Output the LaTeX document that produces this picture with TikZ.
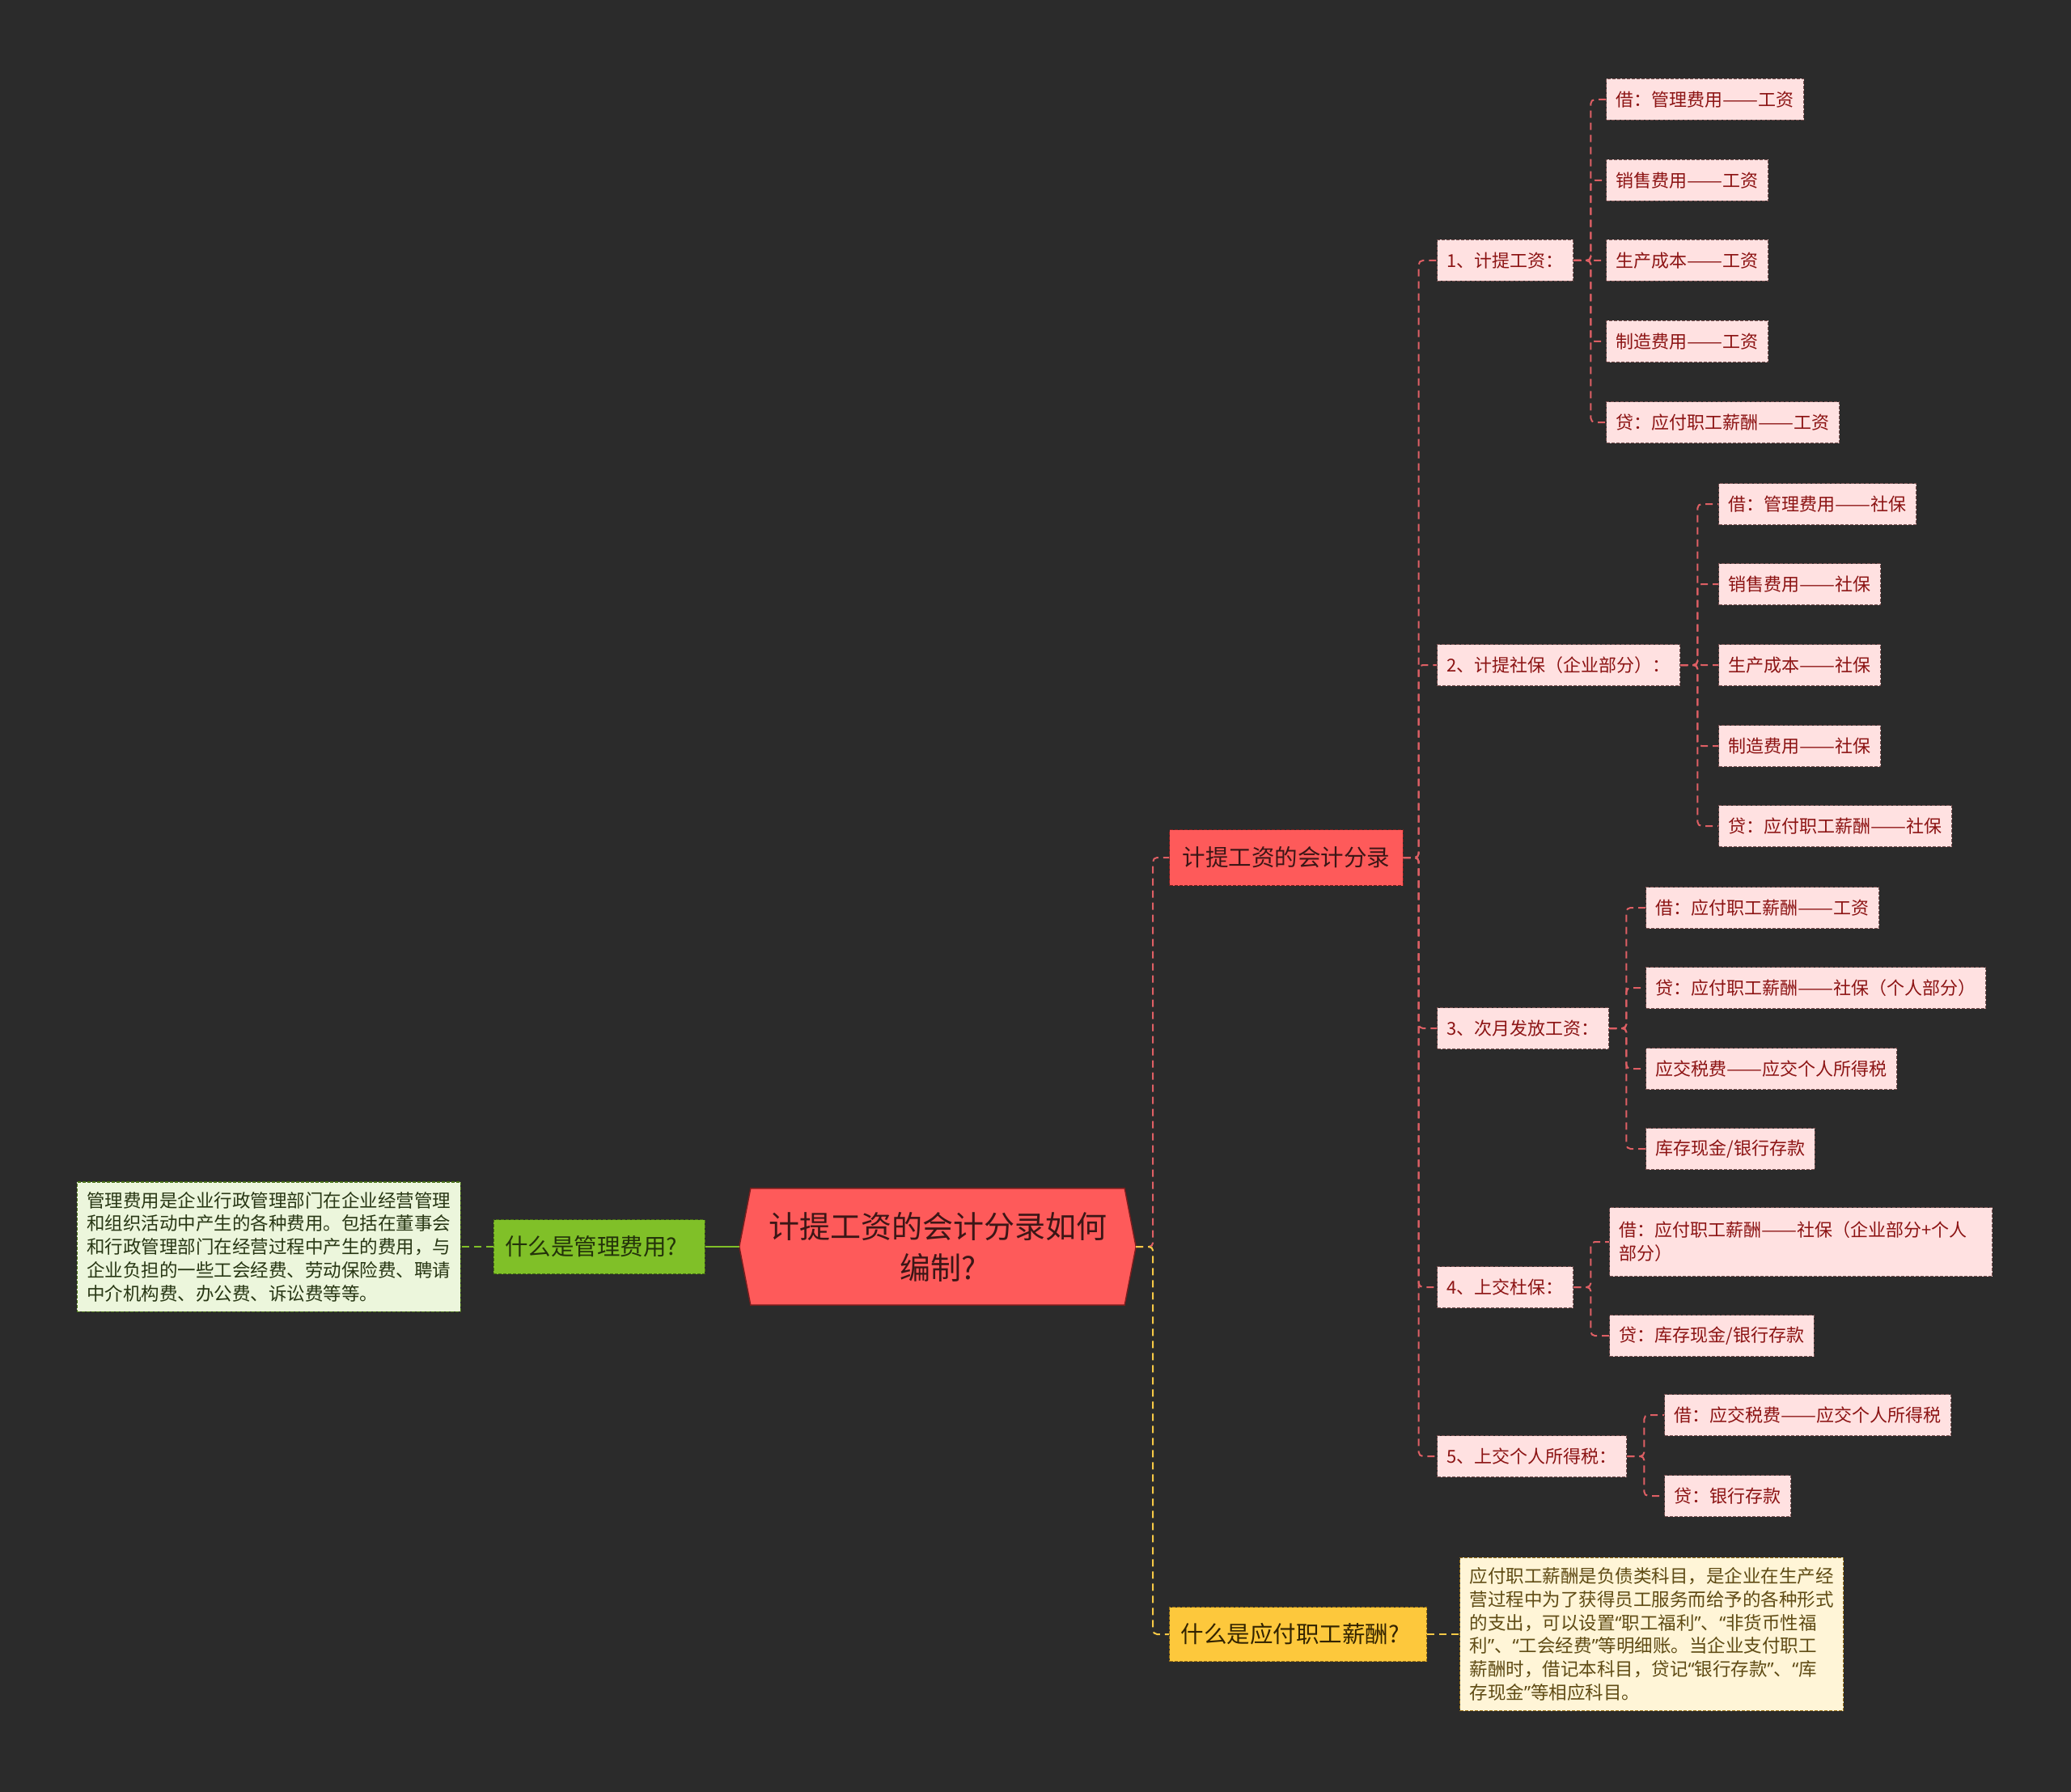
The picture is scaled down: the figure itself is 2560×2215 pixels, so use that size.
\documentclass[tikz,border=0pt]{standalone}
\usepackage{fontspec}
\usepackage{graphicx}
\setmainfont{Noto Sans CJK SC}
\newfontfamily\latinq{Noto Sans}
\newcommand\myLq{{\latinq “}}
\newcommand\myRq{{\latinq ”}}
\newcommand\dd{\resizebox{2em}{\height}{——}}
\usetikzlibrary{backgrounds}
\definecolor{bg}{RGB}{43,43,43}
\definecolor{rootfill}{RGB}{254,90,90}
\definecolor{roottext}{RGB}{60,22,22}
\definecolor{rootline}{RGB}{120,30,30}
\definecolor{linered}{RGB}{222,95,100}
\definecolor{greenfill}{RGB}{128,192,40}
\definecolor{greenline}{RGB}{128,192,40}
\definecolor{greentext}{RGB}{35,50,10}
\definecolor{greenborder}{RGB}{70,110,20}
\definecolor{gdescfill}{RGB}{236,246,220}
\definecolor{gdesctext}{RGB}{40,55,20}
\definecolor{yellowfill}{RGB}{253,200,60}
\definecolor{yellowline}{RGB}{245,200,70}
\definecolor{yellowtext}{RGB}{50,35,0}
\definecolor{yellowborder}{RGB}{150,110,20}
\definecolor{ydescfill}{RGB}{255,245,215}
\definecolor{ydesctext}{RGB}{95,75,20}
\definecolor{leaffill}{RGB}{255,225,225}
\definecolor{leaftext}{RGB}{140,20,20}
\definecolor{leafborder}{RGB}{120,80,80}
\tikzset{
  boxbase/.style={anchor=west, line width=1.2pt, dash pattern=on 4pt off 2pt, inner ysep=0pt},
  leaf/.style={boxbase, fill=leaffill, draw=leafborder, text=leaftext,
    font=\fontsize{22}{29}\selectfont, minimum height=51pt, inner xsep=12pt},
  redn/.style={boxbase, fill=rootfill, draw=rootline, text=roottext,
    font=\fontsize{28.5}{36}\selectfont, minimum height=69pt, inner xsep=16pt},
  greenn/.style={boxbase, fill=greenfill, draw=greenborder, text=greentext,
    font=\fontsize{28.5}{36}\selectfont, minimum height=67pt, text width=233pt, align=left, inner xsep=14pt},
  yellown/.style={boxbase, fill=yellowfill, draw=yellowborder, text=yellowtext,
    font=\fontsize{28.5}{36}\selectfont, minimum height=67pt, text width=290pt, align=left, inner xsep=14pt},
  descbox/.style={boxbase, font=\fontsize{22.5}{28.8}\selectfont, align=left,
    text width=450pt, inner xsep=12pt, inner ysep=12pt},
  conn/.style={draw=linered, line width=2pt, dash pattern=on 9pt off 6pt, rounded corners=5pt},
  connG/.style={draw=greenline, line width=2pt, dash pattern=on 9pt off 6pt},
  connY/.style={draw=yellowline, line width=2pt, dash pattern=on 9pt off 6pt, rounded corners=5pt},
}
\begin{document}
\begin{tikzpicture}[x=1pt,y=-1pt]
\begin{scope}[on background layer]
\fill[bg] (0,0) rectangle (2560,2215);
\end{scope}
\useasboundingbox (0,0) rectangle (2560,2215);

% root
\node[anchor=center, minimum width=490pt, minimum height=144pt, align=center,
  text=roottext, font=\fontsize{38}{51}\selectfont, inner sep=0pt]
  (root) at (1159,1541) {计提工资的会计分录如何\\编制?};
\begin{scope}[on background layer]
\filldraw[fill=rootfill, draw=rootline, line width=1.5pt]
  (root.west) -- ([xshift=14pt]root.north west) -- ([xshift=-14pt]root.north east)
  -- (root.east) -- ([xshift=-14pt]root.south east) -- ([xshift=14pt]root.south west) -- cycle;
\end{scope}

% level 1
\node[redn] (acc) at (1445,1060) {计提工资的会计分录};
\node[greenn, anchor=east] (mgmt) at (872,1541) {什么是管理费用?};
\node[descbox, anchor=east, fill=gdescfill, draw=greenborder, text=gdesctext] (mgmtd) at (570,1541)
 {管理费用是企业行政管理部门在企业经营管理\\和组织活动中产生的各种费用。包括在董事会\\和行政管理部门在经营过程中产生的费用，与\\企业负担的一些工会经费、劳动保险费、聘请\\中介机构费、办公费、诉讼费等等。};
\node[yellown] (pay) at (1445,2020) {什么是应付职工薪酬?};
\node[descbox, fill=ydescfill, draw=yellowborder, text=ydesctext] (payd) at (1804,2020)
 {应付职工薪酬是负债类科目，是企业在生产经\\营过程中为了获得员工服务而给予的各种形式\\的支出，可以设置\myLq 职工福利\myRq 、\myLq 非货币性福\\利\myRq 、\myLq 工会经费\myRq 等明细账。当企业支付职工\\薪酬时，借记本科目，贷记\myLq 银行存款\myRq 、\myLq 库\\存现金\myRq 等相应科目。};

% level 2
\node[leaf] (s1) at (1776,322) {1、计提工资：};
\node[leaf] (s2) at (1776,822) {2、计提社保（企业部分）：};
\node[leaf] (s3) at (1776,1271) {3、次月发放工资：};
\node[leaf] (s4) at (1776,1591) {4、上交杜保：};
\node[leaf] (s5) at (1776,1800) {5、上交个人所得税：};

% group 1
\node[leaf] (a1) at (1985,123) {借：管理费用\dd 工资};
\node[leaf] (a2) at (1985,223) {销售费用\dd 工资};
\node[leaf] (a3) at (1985,322) {生产成本\dd 工资};
\node[leaf] (a4) at (1985,422) {制造费用\dd 工资};
\node[leaf] (a5) at (1985,522) {贷：应付职工薪酬\dd 工资};
% group 2
\node[leaf] (b1) at (2124,623) {借：管理费用\dd 社保};
\node[leaf] (b2) at (2124,722) {销售费用\dd 社保};
\node[leaf] (b3) at (2124,822) {生产成本\dd 社保};
\node[leaf] (b4) at (2124,922) {制造费用\dd 社保};
\node[leaf] (b5) at (2124,1021) {贷：应付职工薪酬\dd 社保};
% group 3
\node[leaf] (c1) at (2034,1122) {借：应付职工薪酬\dd 工资};
\node[leaf] (c2) at (2034,1221) {贷：应付职工薪酬\dd 社保（个人部分）};
\node[leaf] (c3) at (2034,1321) {应交税费\dd 应交个人所得税};
\node[leaf] (c4) at (2034,1420) {库存现金/银行存款};
% group 4
\node[leaf, align=left, text width=449pt, minimum height=85pt] (d1) at (1989,1535)
  {借：应付职工薪酬\dd 社保（企业部分+个人\\部分）};
\node[leaf] (d2) at (1989,1651) {贷：库存现金/银行存款};
% group 5
\node[leaf] (e1) at (2057,1749) {借：应交税费\dd 应交个人所得税};
\node[leaf] (e2) at (2057,1849) {贷：银行存款};

% connectors
\draw[conn] (root.east) -- ++(21,0) |- (acc.west);
\draw[connY] (root.east) -- ++(21,0) |- (pay.west);
\draw[greenline, line width=2pt] (root.west) -- (mgmt.east);
\draw[connG] (mgmt.west) -- (mgmtd.east);
\draw[connY] (pay.east) -- (payd.west);
\foreach \s in {s1,s2,s3,s4,s5} {\draw[conn] (acc.east) -- ++(19,0) |- (\s.west);}
\foreach \l in {a1,a2,a3,a4,a5} {\draw[conn] (s1.east) -- ++(21,0) |- (\l.west);}
\foreach \l in {b1,b2,b3,b4,b5} {\draw[conn] (s2.east) -- ++(21,0) |- (\l.west);}
\foreach \l in {c1,c2,c3,c4} {\draw[conn] (s3.east) -- ++(21,0) |- (\l.west);}
\foreach \l in {d1,d2} {\draw[conn] (s4.east) -- ++(21,0) |- (\l.west);}
\foreach \l in {e1,e2} {\draw[conn] (s5.east) -- ++(21,0) |- (\l.west);}
\end{tikzpicture}
\end{document}
